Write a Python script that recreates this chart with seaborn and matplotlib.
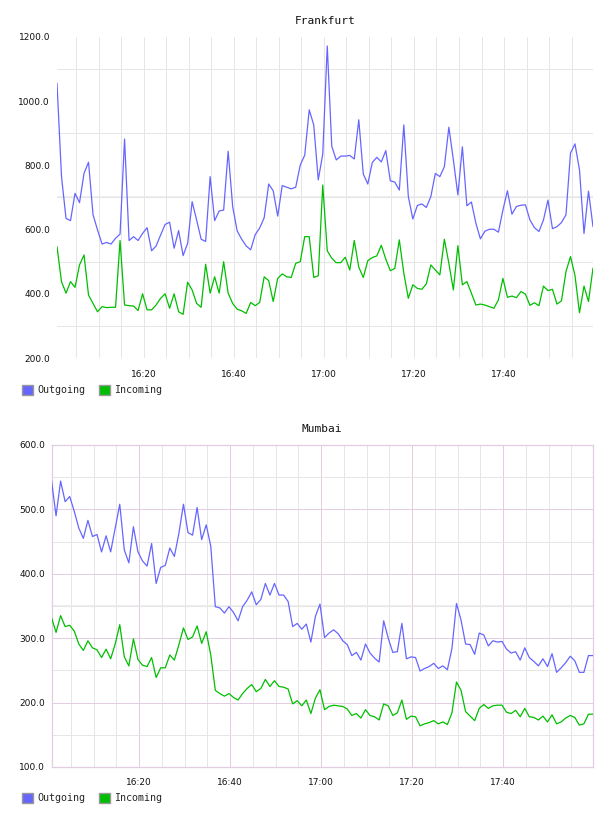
import numpy as np
import pandas as pd
import matplotlib
matplotlib.use("Agg")
import matplotlib.pyplot as plt
import matplotlib.dates as mdates
from matplotlib.patches import Patch
from matplotlib.ticker import FormatStrFormatter, FixedLocator
import seaborn as sns

# ---------------- data ----------------
start_time = "2024-01-01 16:00:45"
n_points = 120
series_names = ["Outgoing", "Incoming"]
x_tick_labels = ["16:20", "16:40", "17:00", "17:20", "17:40"]

frankfurt_outgoing = [
    1056, 765, 635, 628, 713, 684, 775, 810, 646, 599,
    555, 560, 555, 573, 586, 882, 566, 578, 566, 588,
    606, 534, 549, 583, 616, 623, 542, 597, 519, 557,
    687, 630, 570, 563, 765, 628, 658, 661, 844, 672,
    596, 570, 549, 537, 584, 605, 637, 742, 721, 642,
    737, 732, 727, 732, 801, 832, 973, 926, 755, 835,
    1172, 860, 817, 829, 829, 831, 820, 942, 773, 742,
    809, 825, 811, 846, 752, 748, 723, 926, 703, 633,
    675, 680, 669, 703, 775, 765, 796, 919, 817, 708,
    858, 674, 686, 620, 571, 595, 601, 601, 592, 661,
    721, 648, 672, 676, 677, 630, 606, 594, 630, 692,
    603, 609, 622, 646, 838, 867, 786, 588, 720, 609,
]
frankfurt_incoming = [
    547, 438, 402, 438, 420, 490, 521, 396, 370, 344,
    360, 357, 358, 358, 566, 365, 363, 362, 348, 400,
    350, 350, 365, 386, 400, 355, 400, 344, 336, 436,
    412, 370, 358, 492, 402, 453, 402, 500, 402, 370,
    352, 347, 339, 373, 363, 373, 453, 441, 376, 448,
    462, 453, 451, 495, 500, 578, 578, 451, 456, 739,
    534, 511, 497, 497, 514, 474, 566, 483, 451, 503,
    513, 518, 551, 508, 472, 479, 568, 464, 386, 428,
    417, 414, 431, 490, 474, 459, 570, 495, 412, 550,
    428, 438, 402, 365, 368, 365, 360, 355, 381, 448,
    389, 393, 388, 407, 399, 364, 372, 363, 424, 410,
    414, 368, 378, 469, 516, 457, 341, 424, 376, 480,
]
mumbai_outgoing = [
    545, 490, 544, 512, 520, 497, 471, 455, 483, 458,
    461, 434, 459, 434, 471, 508, 437, 417, 473, 434,
    420, 412, 447, 385, 410, 413, 440, 427, 463, 508,
    464, 460, 503, 453, 476, 443, 349, 347, 339, 349,
    340, 327, 349, 359, 372, 352, 360, 385, 367, 385,
    367, 367, 357, 318, 323, 314, 322, 294, 334, 353,
    301, 308, 313, 307, 296, 290, 273, 278, 266, 291,
    277, 269, 263, 327, 300, 278, 279, 323, 268, 271,
    270, 249, 253, 256, 261, 253, 257, 251, 284, 354,
    328, 291, 290, 275, 308, 305, 288, 296, 294, 295,
    283, 277, 279, 266, 285, 270, 264, 257, 268, 256,
    276, 247, 254, 262, 272, 265, 247, 247, 273, 273,
]
mumbai_incoming = [
    332, 309, 335, 318, 320, 311, 291, 281, 296, 285,
    282, 270, 283, 268, 291, 321, 271, 257, 299, 267,
    258, 256, 270, 239, 254, 254, 274, 266, 290, 316,
    298, 302, 319, 292, 310, 274, 219, 214, 210, 214,
    208, 204, 214, 222, 228, 217, 222, 236, 225, 234,
    225, 224, 221, 198, 203, 195, 204, 183, 207, 220,
    189, 194, 196, 195, 194, 190, 180, 183, 176, 189,
    180, 178, 173, 198, 195, 180, 184, 204, 174, 179,
    178, 164, 167, 169, 172, 167, 170, 166, 184, 232,
    219, 186, 179, 172, 191, 197, 191, 195, 196, 196,
    185, 183, 188, 178, 191, 178, 177, 173, 179, 170,
    181, 167, 170, 176, 180, 177, 165, 167, 182, 182,
]

palette = {"Outgoing": "#6666ff", "Incoming": "#00bf00"}
GRAY = "#e6e6e6"
PINK = "#e3cde3"

# ---------------- figure ----------------
sns.set_theme(style="white")
plt.rcParams["font.family"] = ["DejaVu Sans"]

W, H = 608, 816
fig = plt.figure(figsize=(W / 100, H / 100), dpi=100)
ax_f = fig.add_axes([57 / W, 1 - 358 / H, 536 / W, 321 / H])
ax_m = fig.add_axes([51.5 / W, 1 - 767 / H, 541.5 / W, 322 / H])

times = pd.date_range(start_time, periods=n_points, freq="min")
major_ticks = mdates.date2num(pd.to_datetime([f"2024-01-01 {t}" for t in x_tick_labels]).to_pydatetime())


def draw(ax, outgoing, incoming, title, ylo, yhi, ystep, framed, xpad, ypad, legend_y):
    df = pd.DataFrame({
        "time": np.concatenate([times.values, times.values]),
        "rate": np.concatenate([outgoing, incoming]),
        "direction": np.repeat(series_names, n_points),
    })
    sns.lineplot(data=df, x="time", y="rate", hue="direction", palette=palette,
                 linewidth=0.9, ax=ax, legend=False, estimator=None, errorbar=None,
                 zorder=3)
    ax.set_xlim(times[0], times[-1])
    ax.set_ylim(ylo, yhi)
    ax.set_xlabel("")
    ax.set_ylabel("")
    ax.set_facecolor("white")

    ax.set_xticks(major_ticks)
    ax.set_xticklabels(x_tick_labels)
    ax.xaxis.set_minor_locator(mdates.MinuteLocator(byminute=range(0, 60, 5)))
    ax.set_yticks(np.arange(ylo, yhi + 1, ystep))
    ax.yaxis.set_major_formatter(FormatStrFormatter("%.1f"))
    ax.yaxis.set_minor_locator(FixedLocator(np.arange(ylo + ystep / 2, yhi, ystep)))
    mid = (ylo + yhi) / 2

    ax.grid(which="minor", axis="both", color=GRAY, linewidth=0.72, zorder=0)
    if framed:
        ax.grid(which="major", axis="both", color=PINK, linewidth=0.72, zorder=0)
        for s in ax.spines.values():
            s.set_visible(True)
            s.set_color(PINK)
            s.set_linewidth(0.9)
    else:
        ax.grid(which="major", axis="x", color=GRAY, linewidth=0.72, zorder=0)
        ax.grid(which="major", axis="y", visible=False)
        for s in ax.spines.values():
            s.set_visible(False)
    ax.axhline(mid, color="#efefef", linewidth=1.6, zorder=0.5)

    ax.tick_params(which="both", length=0, labelsize=6.5, colors="#111111")
    ax.tick_params(axis="x", pad=xpad)
    ax.tick_params(axis="y", pad=ypad)
    ax.set_title(title, fontsize=8, family="DejaVu Sans Mono", pad=9, color="#111111")

    handles = [Patch(facecolor=palette[n], edgecolor="#999999", linewidth=1.0, label=n)
               for n in series_names]
    fig.legend(handles=handles, loc="upper left", bbox_to_anchor=(22 / W, legend_y),
               ncol=2, frameon=False, prop={"family": "DejaVu Sans Mono", "size": 7.2},
               handlelength=1.1, handleheight=1.1, handletextpad=0.4,
               columnspacing=1.4, borderpad=0, borderaxespad=0)


draw(ax_f, frankfurt_outgoing, frankfurt_incoming, "Frankfurt", 200, 1200, 200,
     False, 8.6, 5.0, 1 - 385 / H)
draw(ax_m, mumbai_outgoing, mumbai_incoming, "Mumbai", 100, 600, 100,
     True, 7.7, 4.7, 1 - 793 / H)

fig.savefig("out.png", dpi=100)
